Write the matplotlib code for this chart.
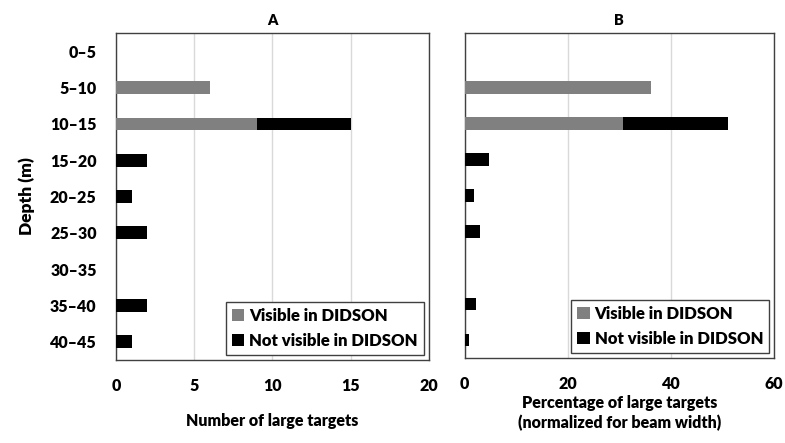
import numpy as np
import matplotlib.pyplot as plt

plt.rcParams['font.family'] = ['Lato', 'DejaVu Sans']
plt.rcParams['font.weight'] = 'heavy'

depths = ['0\u20135', '5\u201310', '10\u201315', '15\u201320', '20\u201325',
          '25\u201330', '30\u201335', '35\u201340', '40\u201345']
count_visible = [0, 6, 9, 0, 0, 0, 0, 0, 0]
count_not_visible = [0, 0, 6, 2, 1, 2, 0, 2, 1]
pct_visible = [0, 36.2, 30.7, 0, 0, 0, 0, 0, 0]
pct_not_visible = [0, 0, 20.4, 4.7, 1.8, 2.9, 0, 2.1, 0.8]

gray = '#808080'
black = '#000000'

fig = plt.figure(figsize=(7.85, 4.43), dpi=100)
axA = fig.add_axes([0.148, 0.188, 0.398, 0.737])
axB = fig.add_axes([0.592, 0.192, 0.394, 0.733])

y = np.arange(len(depths))

def draw(ax, vis, notvis, xmax, step, title, xlabel, ylabels):
    ax.barh(y, vis, height=0.35, color=gray, label='Visible in DIDSON', zorder=3)
    ax.barh(y, notvis, left=vis, height=0.35, color=black,
            label='Not visible in DIDSON', zorder=3)
    ax.set_xlim(0, xmax)
    ax.set_xticks(np.arange(0, xmax + 1, step))
    ax.set_ylim(len(depths) - 0.5, -0.5)
    ax.set_yticks(y)
    if ylabels:
        ax.set_yticklabels(depths)
    else:
        ax.set_yticklabels([])
    ax.tick_params(axis='both', length=0, labelsize=11.5, pad=14)
    ax.tick_params(axis='x', pad=13)
    ax.grid(axis='x', color='#d9d9d9', linewidth=1, zorder=0)
    for s in ax.spines.values():
        s.set_color('#404040')
        s.set_linewidth(1)
    ax.set_title(title, fontsize=10.5, fontweight='heavy', pad=6)
    ax.set_xlabel(xlabel, fontsize=11.5, fontweight='heavy', labelpad=14,
                  linespacing=1.3)
    leg = ax.legend(loc='lower right', fontsize=12, handlelength=0.75,
                    handleheight=0.75, handletextpad=0.3, fancybox=False,
                    borderpad=0.35, labelspacing=0.55, framealpha=1,
                    edgecolor='#404040', borderaxespad=0.3)
    leg.get_frame().set_linewidth(1)

draw(axA, count_visible, count_not_visible, 20, 5, 'A',
     'Number of large targets', True)
draw(axB, pct_visible, pct_not_visible, 60, 20, 'B',
     'Percentage of large targets\n(normalized for beam width)', False)
axB.xaxis.labelpad = 2
axA.set_ylabel('Depth (m)', fontsize=12.5, fontweight='heavy', labelpad=11)

fig.savefig('out.png', dpi=100)
